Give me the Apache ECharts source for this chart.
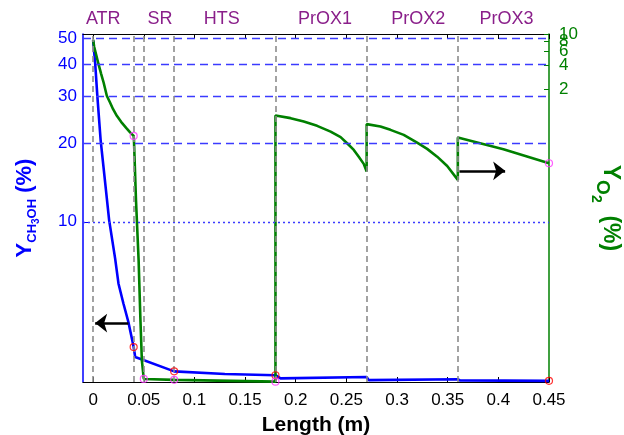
<!DOCTYPE html>
<html>
<head>
<meta charset="utf-8">
<title>CH3OH / O2 along the reactor</title>
<script src="https://cdn.jsdelivr.net/npm/echarts@6/dist/echarts.min.js"></script>
<style>
    body { margin: 0; }
    #chart { width: 624px; height: 435px; }
</style>
</head>
<body>
<div id="chart"></div>
<script>
// reactor sections
var stageNames = ['ATR', 'SR', 'HTS', 'PrOX1', 'PrOX2', 'PrOX3'];
var stageNameX = [0.01, 0.066, 0.127, 0.229, 0.321, 0.408];
var stageBounds = [0, 0.04, 0.05, 0.08, 0.18, 0.27, 0.36];

// tick labels
var lengthTicks = [0, 0.05, 0.1, 0.15, 0.2, 0.25, 0.3, 0.35, 0.4, 0.45];
var ch3ohTicks = [10, 20, 30, 40, 50];
var o2Ticks = [2, 4, 6, 8, 10];
var ch3ohGrid = [10, 20, 30, 40, 50];

// Y CH3OH (%) - left axis
var ch3ohX = [0, 0.002, 0.0042, 0.0074, 0.0109, 0.0158, 0.0217, 0.025, 0.0299, 0.0348, 0.04, 0.0415,
    0.08, 0.13, 0.18, 0.185, 0.27, 0.272, 0.36, 0.362, 0.45];
var ch3ohY = [49.1, 40.3, 30.0, 20.5, 15.3, 10.15, 7.25, 5.82, 4.88, 4.15, 3.33, 3.05,
    2.69, 2.63, 2.60, 2.53, 2.56, 2.49, 2.51, 2.485, 2.475];

// Y O2 (%) - right axis
var o2X = [0, 0.001, 0.003, 0.0052, 0.0079, 0.0104, 0.0135, 0.0168, 0.0197, 0.0234, 0.0276, 0.0326, 0.0365, 0.04,
    0.0403, 0.0423, 0.0449, 0.0467, 0.0481, 0.05, 0.08, 0.18,
    0.18, 0.1949, 0.2079, 0.2211, 0.2344, 0.2443, 0.2507, 0.2573, 0.2622, 0.2671, 0.27,
    0.27, 0.2836, 0.2935, 0.3066, 0.3198, 0.3297, 0.3396, 0.3495, 0.36,
    0.36, 0.405, 0.45];
var o2Y = [8.46, 6.88, 5.44, 4.18, 3.11, 2.39, 1.63, 1.33, 1.10, 0.905, 0.759, 0.636, 0.557, 0.502,
    0.447, 0.0766, 0.0131, 0.00225, 0.00069, 0.0004, 0.00039, 0.00037,
    0.913, 0.846, 0.765, 0.675, 0.570, 0.484, 0.405, 0.333, 0.273, 0.221, 0.176,
    0.709, 0.661, 0.600, 0.518, 0.413, 0.343, 0.273, 0.208, 0.138,
    0.478, 0.340, 0.225];

// section outlet markers
var ch3ohMarkX = [0.04, 0.08, 0.18, 0.45];
var ch3ohMarkY = [3.33, 2.69, 2.60, 2.475];
var o2MarkX = [0.04, 0.05, 0.08, 0.18, 0.45];
var o2MarkY = [0.502, 0.0004, 0.00039, 0.00037, 0.225];

// arrows pointing to the axes
var arrowCh3oh = [[0.0348, 4.11], [0.002, 4.11]];
var arrowO2 = [[0.3616, 0.18], [0.4067, 0.18]];

function pairs(xs, ys) {
    return xs.map(function (x, i) { return [x, ys[i]]; });
}

// the O2 labels sit on top of each other (like the original); echarts drops
// the first/last label when it overlaps its neighbour, so the list handed to
// the axis starts and ends with labels that are far apart
var o2LabelOrder = [o2Ticks[3], o2Ticks[0], o2Ticks[2], o2Ticks[4], o2Ticks[1]];

var blue = '#0000ff';
var green = '#008000';
var purple = '#8a1f8a';
var font = 'Liberation Sans, Arial, sans-serif';

var chart = echarts.init(document.getElementById('chart'));
chart.setOption({
    animation: false,
    grid: { left: 83, right: 75, top: 34, bottom: 53, containLabel: false, outerBoundsMode: 'none' },
    xAxis: [{
        type: 'value', position: 'bottom',
        min: -0.01, max: 0.45,
        name: 'Length (m)', nameLocation: 'middle', nameGap: 33,
        nameTextStyle: { fontFamily: font, fontSize: 21, fontWeight: 'bold', color: '#000' },
        axisLine: { onZero: false, lineStyle: { color: '#000', width: 1.2 } },
        axisTick: { inside: true, length: 5, customValues: lengthTicks, lineStyle: { color: '#000' } },
        axisLabel: { customValues: lengthTicks, margin: 10, fontFamily: font, fontSize: 17, color: '#000' },
        splitLine: { show: false }
    }, {
        type: 'value', position: 'top',
        min: -0.01, max: 0.45,
        axisLine: { onZero: false, lineStyle: { color: '#000', width: 1.2 } },
        axisTick: { inside: true, length: 5, customValues: lengthTicks, lineStyle: { color: '#000' } },
        axisLabel: {
            customValues: stageNameX, margin: 6, fontFamily: font, fontSize: 18, color: purple,
            formatter: function (v) { return stageNames[stageNameX.indexOf(v)]; }
        },
        splitLine: { show: false }
    }],
    yAxis: [{
        type: 'log', position: 'left',
        min: 2.45, max: 52,
        name: '{m|Y}{s|CH}{ss|3}{s|OH}{m| (%)}',
        nameLocation: 'middle', nameGap: 46, nameRotate: 90,
        nameTextStyle: {
            color: blue,
            rich: {
                m: { fontFamily: font, fontSize: 22, fontWeight: 'bold', color: blue, verticalAlign: 'top', lineHeight: 23 },
                s: { fontFamily: font, fontSize: 13, fontWeight: 'bold', color: blue, verticalAlign: 'top', lineHeight: 14, padding: [12, 0, 0, 0] },
                ss: { fontFamily: font, fontSize: 10, fontWeight: 'bold', color: blue, verticalAlign: 'top', lineHeight: 11, padding: [17, 0, 0, 0] }
            }
        },
        axisLine: { show: true, onZero: false, lineStyle: { color: blue, width: 1.5 } },
        axisTick: { inside: true, length: 5, customValues: ch3ohTicks, lineStyle: { color: blue } },
        axisLabel: { customValues: ch3ohTicks, margin: 6, fontFamily: font, fontSize: 17, color: blue },
        splitLine: { show: false }
    }, {
        type: 'log', position: 'right',
        min: 0.000366, max: 10.0001,
        name: '{m|Y}{s|O}{ss|2}{m|  (%)}',
        nameLocation: 'middle', nameGap: 43, nameRotate: -90,
        nameTextStyle: {
            color: green,
            rich: {
                m: { fontFamily: font, fontSize: 23, fontWeight: 'bold', color: green, verticalAlign: 'top', lineHeight: 24 },
                s: { fontFamily: font, fontSize: 19, fontWeight: 'bold', color: green, verticalAlign: 'top', lineHeight: 20, padding: [10, 0, 0, 0] },
                ss: { fontFamily: font, fontSize: 14, fontWeight: 'bold', color: green, verticalAlign: 'top', lineHeight: 15, padding: [19, 0, 0, 0] }
            }
        },
        axisLine: { show: true, onZero: false, lineStyle: { color: green, width: 1.5 } },
        axisTick: { inside: true, length: 5, customValues: o2Ticks, lineStyle: { color: green } },
        axisLabel: {
            customValues: o2LabelOrder, margin: 10, hideOverlap: false, showMinLabel: true, showMaxLabel: true,
            fontFamily: font, fontSize: 17, color: green
        },
        splitLine: { show: false }
    }],
    series: [{
        // horizontal grid of the CH3OH axis
        type: 'line', xAxisIndex: 0, yAxisIndex: 0, data: [], z: 1,
        markLine: {
            silent: true, symbol: 'none', label: { show: false },
            lineStyle: { color: '#3b3bff', width: 1.4 },
            data: ch3ohGrid.map(function (v) {
                return { yAxis: v, lineStyle: { type: v === 10 ? [2, 3] : [8, 5] } };
            })
        }
    }, {
        name: 'Y CH3OH', type: 'line', xAxisIndex: 0, yAxisIndex: 0, z: 3,
        data: pairs(ch3ohX, ch3ohY), showSymbol: false,
        lineStyle: { color: blue, width: 2.6 }, itemStyle: { color: blue },
        markLine: {
            silent: true, symbol: ['none', 'arrow'], symbolSize: [14, 12], label: { show: false },
            lineStyle: { color: '#000', width: 2.5, type: 'solid' },
            data: [[{ coord: arrowCh3oh[0] }, { coord: arrowCh3oh[1] }]]
        }
    }, {
        name: 'Y O2', type: 'line', xAxisIndex: 0, yAxisIndex: 1, z: 3,
        data: pairs(o2X, o2Y), showSymbol: false,
        lineStyle: { color: green, width: 2.6 }, itemStyle: { color: green },
        markLine: {
            silent: true, symbol: ['none', 'arrow'], symbolSize: [14, 12], label: { show: false },
            lineStyle: { color: '#000', width: 2.5, type: 'solid' },
            data: [[{ coord: arrowO2[0] }, { coord: arrowO2[1] }]]
        }
    }, {
        // section boundaries
        type: 'line', xAxisIndex: 0, yAxisIndex: 0, data: [], z: 4,
        markLine: {
            silent: true, symbol: 'none', label: { show: false },
            lineStyle: { color: '#8c8c8c', width: 1.6, type: [6, 4] },
            data: stageBounds.map(function (v) { return { xAxis: v }; })
        }
    }, {
        type: 'scatter', xAxisIndex: 0, yAxisIndex: 0, z: 5,
        data: pairs(ch3ohMarkX, ch3ohMarkY), symbol: 'circle', symbolSize: 7,
        itemStyle: { color: 'rgba(0,0,0,0)', borderColor: '#ff0000', borderWidth: 1.2 }
    }, {
        type: 'scatter', xAxisIndex: 0, yAxisIndex: 1, z: 5,
        data: pairs(o2MarkX, o2MarkY), symbol: 'circle', symbolSize: 7,
        itemStyle: { color: 'rgba(0,0,0,0)', borderColor: '#ff33ff', borderWidth: 1.2 }
    }]
});
</script>
</body>
</html>
